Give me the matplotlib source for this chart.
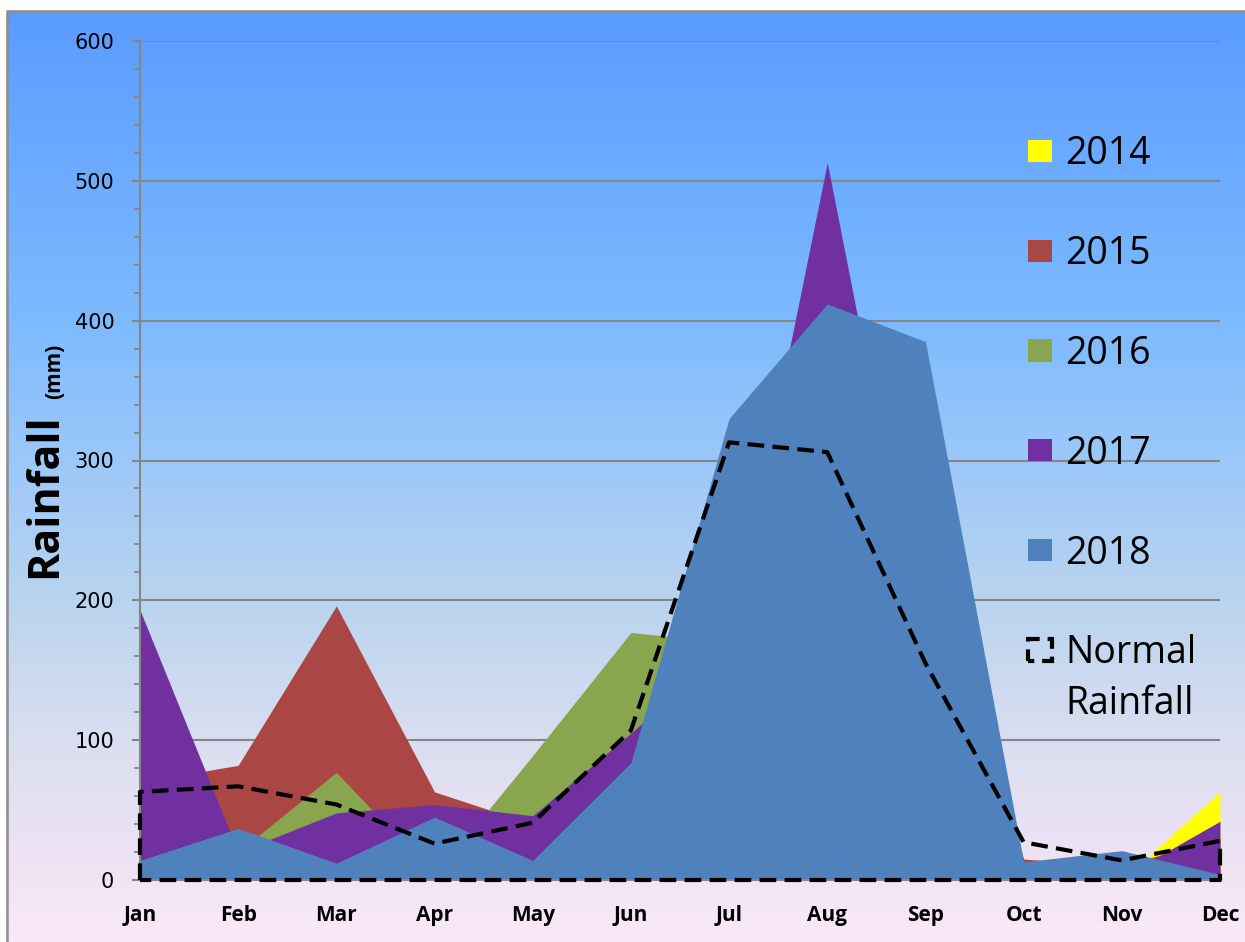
import numpy as np
import matplotlib
matplotlib.use("Agg")
import matplotlib.pyplot as plt
from matplotlib.patches import Rectangle, Patch
from matplotlib.legend_handler import HandlerPatch
from matplotlib.ticker import MultipleLocator

# ---------------- data ----------------
months = ["Jan", "Feb", "Mar", "Apr", "May", "Jun",
          "Jul", "Aug", "Sep", "Oct", "Nov", "Dec"]
years = ["2014", "2015", "2016", "2017", "2018"]
rain_2014 = [10, 20, 10, 30, 10, 60, 250, 300, 280, 10, 0, 63]
rain_2015 = [70, 82, 196, 63, 40, 100, 250, 300, 250, 15, 10, 30]
rain_2016 = [30, 20, 77, 3, 89, 177, 170, 250, 200, 5, 10, 25]
rain_2017 = [193, 20, 48, 54, 46, 105, 167, 513, 156, 8, 2, 42]
rain_2018 = [14, 37, 12, 45, 14, 84, 330, 412, 385, 13, 21, 4]
normal_rainfall = [63, 67, 54, 26, 41, 107, 313, 306, 155, 27, 14, 28]
y_ticks = [0, 100, 200, 300, 400, 500, 600]

series = [rain_2014, rain_2015, rain_2016, rain_2017, rain_2018]
colors = ["#FFFF00", "#AA4643", "#89A54E", "#7030A0", "#4F81BD"]

W, H = 1245, 942
fig = plt.figure(figsize=(W / 100, H / 100), dpi=100)
fig.patch.set_facecolor("white")

# ---------------- background gradient ----------------
bg = fig.add_axes([7 / W, 0, 1 - 7 / W, 1 - 11 / H], zorder=-10)
n_rows = H - 11
stop_y = np.array([0, 20, 310, 450, 590, 730, 870, n_rows])
stop_c = np.array([
    (90, 155, 255), (92, 158, 255), (125, 186, 255), (156, 200, 248),
    (185, 212, 238), (218, 222, 240), (242, 228, 245), (250, 233, 248)
]) / 255.0
rows = np.arange(n_rows)
grad = np.stack([np.interp(rows, stop_y, stop_c[:, i]) for i in range(3)], axis=-1)[:, None, :]
bg.imshow(grad, aspect="auto", extent=[0, 1, 0, 1], origin="upper")
bg.set_xlim(0, 1)
bg.set_ylim(0, 1)
bg.axis("off")
fig.add_artist(Rectangle((7 / W, -0.1), 1.2, 1 - 11 / H + 0.1, transform=fig.transFigure,
                         fill=False, ec="#8c8c8c", lw=1.8, zorder=-5))

# ---------------- main axes ----------------
ax = fig.add_axes([140 / W, 62 / H, 1080 / W, 839 / H])
ax.patch.set_alpha(0)
x = np.arange(len(months))

for vals, col in zip(series, colors):
    ax.fill_between(x, vals, 0, color=col, lw=0, zorder=2)

ax.fill_between(x, normal_rainfall, 0, facecolor="none", edgecolor="black", lw=3,
                linestyle=(0, (4, 2)), zorder=3, clip_on=False)

ax.set_xlim(0, len(months) - 1)
ax.set_ylim(y_ticks[0], y_ticks[-1])
ax.set_yticks(y_ticks)
ax.yaxis.set_minor_locator(MultipleLocator(20))
ax.grid(axis="y", which="major", color="#868686", lw=1.5)
ax.set_axisbelow(True)
for s in ["top", "right"]:
    ax.spines[s].set_visible(False)
for s in ["left", "bottom"]:
    ax.spines[s].set_color("#868686")
    ax.spines[s].set_linewidth(1.5)

ax.tick_params(axis="y", which="major", length=5.5, width=1.5, color="#868686",
               pad=13, labelsize=15)
ax.tick_params(axis="y", which="minor", length=4.5, width=1.3, color="#868686")
ax.tick_params(axis="x", length=0, pad=18)
ax.set_xticks(x)
ax.set_xticklabels(months, fontsize=15, fontweight="bold", family="Open Sans")
for lab in ax.get_yticklabels():
    lab.set_family("DejaVu Sans")

# y label
fig.text(45 / W, 1 - 496 / H, "Rainfall", rotation=90, ha="center", va="center",
         fontsize=31, fontweight="bold", family="Open Sans")
fig.text(55 / W, 1 - 371 / H, "(mm)", rotation=90, ha="center", va="center",
         fontsize=15, fontweight="bold", family="Open Sans")

# ---------------- legend ----------------
def normal_patch(legend, orig_handle, xdescent, ydescent, width, height, fontsize):
    return Rectangle((-xdescent, -ydescent + 0.8 * fontsize), width, height)

handles = [Patch(facecolor=c, edgecolor="none") for c in colors]
normal_handle = Rectangle((0, 0), 1, 1, fill=False, ec="black", lw=3,
                          ls=(1.9, (3.4, 1.9)))
handles.append(normal_handle)
labels = years + ["Normal\nRainfall"]
leg = ax.legend(handles, labels, loc="upper left",
                bbox_to_anchor=((1028 - 140) / 1080, (880 - 135) / 839),
                frameon=False, borderpad=0, borderaxespad=0,
                prop={"family": "Open Sans", "size": 27},
                handlelength=0.64, handleheight=0.53, handletextpad=0.35,
                labelspacing=1.65,
                handler_map={normal_handle: HandlerPatch(patch_func=normal_patch)})
for t in leg.get_texts():
    t.set_linespacing(1.43)

fig.savefig("out.png", dpi=100)
